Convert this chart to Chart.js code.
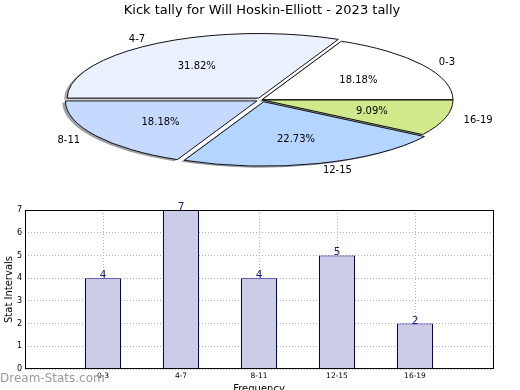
<!DOCTYPE html>
<html><head><meta charset="utf-8">
<script src="https://cdn.jsdelivr.net/npm/chart.js@4/dist/chart.umd.min.js"></script>
<style>
html,body{margin:0;padding:0;background:#fff;overflow:hidden;width:520px;height:390px;}
canvas{position:absolute;left:0;}
#pie{top:0;}
#bar{top:195px;}
#wm{position:absolute;left:0;top:372px;font:12px 'DejaVu Sans';line-height:12px;color:#999;white-space:nowrap;}
</style></head><body>
<canvas id="pie" width="520" height="196"></canvas>
<canvas id="bar" width="520" height="205"></canvas>
<div id="wm">Dream-Stats.com</div>
<script>
// ---- data ----
const categories = ['0-3', '4-7', '8-11', '12-15', '16-19'];
const counts = [4, 7, 4, 5, 2];
const yTicks = [0, 1, 2, 3, 4, 5, 6, 7];
const chartTitle = 'Kick tally for Will Hoskin-Elliott - 2023 tally';
const yTitle = 'Stat Intervals';
const xTitle = 'Frequency';

// ---- styles ----
const FONT = "'DejaVu Sans', sans-serif";
const sliceColors = ['#ffffff', '#ebf1ff', '#c6d9ff', '#b3d5ff', '#d0ea8b'];
const sliceOffsets = [0, 24, 24, 24, 0];
const RX = 191, RY = 64.4, K = RY / RX;
const TEXT_DY = 1;

function applyEll(ctx, cx, cy) { ctx.translate(cx, cy); ctx.scale(1, -K); ctx.translate(-cx, -cy); }
function arcGeom(a) {
  const off = (a.options.offset || 0) / 4;
  const mid = (a.startAngle + a.endAngle) / 2;
  const circ = a.endAngle - a.startAngle;
  const r = a.outerRadius + off * (1 - Math.sin(Math.min(Math.PI, circ)));
  return {x: a.x + Math.cos(mid) * off, y: a.y + Math.sin(mid) * off, r, mid, ox: Math.cos(mid) * off, oy: Math.sin(mid) * off};
}
function wedgePath(ctx, a) {
  const g = arcGeom(a);
  ctx.moveTo(g.x, g.y); ctx.arc(g.x, g.y, g.r, a.startAngle, a.endAngle); ctx.closePath();
}
function shadowOf(hex) {
  const n = parseInt(hex.slice(1), 16);
  const r = Math.round(((n >> 16) & 255) * 0.3), g = Math.round(((n >> 8) & 255) * 0.3), b = Math.round((n & 255) * 0.3);
  return `rgba(${r},${g},${b},0.5)`;
}

const ellipsePlugin = {
  id: 'ellipse',
  beforeDatasetsDraw(chart) {
    const ctx = chart.ctx;
    const arcs = chart.getDatasetMeta(0).data;
    const cx = arcs[0].x, cy = arcs[0].y;
    ctx.save();
    chart.$base = ctx.getTransform();
    arcs.forEach(a => {
      ctx.setTransform(chart.$base);
      ctx.translate(-3, 1.5);
      applyEll(ctx, cx, cy);
      ctx.beginPath(); wedgePath(ctx, a);
      ctx.fillStyle = shadowOf(a.options.backgroundColor);
      ctx.fill();
    });
    ctx.setTransform(chart.$base);
    applyEll(ctx, cx, cy);
  },
  afterDatasetsDraw(chart) {
    const ctx = chart.ctx;
    const arcs = chart.getDatasetMeta(0).data;
    const cx = arcs[0].x, cy = arcs[0].y;
    arcs.forEach(a => {
      ctx.setTransform(chart.$base); applyEll(ctx, cx, cy);
      ctx.beginPath(); wedgePath(ctx, a);
      ctx.setTransform(chart.$base);
      ctx.lineWidth = 1; ctx.strokeStyle = '#111'; ctx.lineJoin = 'miter'; ctx.stroke();
    });
    ctx.restore();
    const total = counts.reduce((s, v) => s + v, 0);
    ctx.save();
    ctx.fillStyle = '#000';
    ctx.font = '10px ' + FONT;
    ctx.textBaseline = 'middle';
    arcs.forEach((a, i) => {
      const g = arcGeom(a);
      const lx = cx + g.ox + 1.1 * a.outerRadius * Math.cos(g.mid);
      const ly = cy - K * (g.oy + 1.1 * a.outerRadius * Math.sin(g.mid)) + TEXT_DY;
      ctx.textAlign = Math.cos(g.mid) > 0 ? 'left' : 'right';
      ctx.fillText(categories[i], lx, ly);
      const px = cx + g.ox + 0.6 * a.outerRadius * Math.cos(g.mid);
      const py = cy - K * (g.oy + 0.6 * a.outerRadius * Math.sin(g.mid)) + TEXT_DY;
      ctx.textAlign = 'center';
      ctx.fillText((counts[i] / total * 100).toFixed(2) + '%', px, py);
    });
    ctx.restore();
  }
};

new Chart(document.getElementById('pie'), {
  type: 'pie',
  data: {
    labels: categories,
    datasets: [{
      data: counts,
      backgroundColor: sliceColors,
      borderWidth: 0,
      offset: sliceOffsets,
      clip: false
    }]
  },
  options: {
    responsive: false,
    animation: false,
    rotation: 90,
    radius: RX,
    events: [],
    layout: {padding: {left: 4, right: 0, top: 0, bottom: 15}},
    plugins: {
      legend: {display: false},
      tooltip: {enabled: false},
      title: {display: true, text: chartTitle, color: '#000', font: {family: FONT, size: 13, weight: 'normal'}, padding: {top: 3, bottom: 0}}
    }
  },
  plugins: [ellipsePlugin]
});

// ---- bar chart ----
const framePlugin = {
  id: 'frame',
  afterDraw(chart) {
    const {ctx, chartArea: a} = chart;
    ctx.save();
    ctx.strokeStyle = '#000'; ctx.lineWidth = 1;
    ctx.strokeRect(Math.round(a.left) + 0.5, Math.round(a.top) + 0.5, Math.round(a.right - a.left), Math.round(a.bottom - a.top) - 1);
    ctx.restore();
  }
};
const valuePlugin = {
  id: 'values',
  afterDatasetsDraw(chart) {
    const ctx = chart.ctx;
    ctx.save();
    ctx.fillStyle = '#1a1a8c';
    ctx.font = '10.5px ' + FONT;
    ctx.textAlign = 'center'; ctx.textBaseline = 'alphabetic';
    chart.getDatasetMeta(0).data.forEach((b, i) => ctx.fillText(String(counts[i]), b.x, b.y));
    ctx.restore();
  }
};

new Chart(document.getElementById('bar'), {
  type: 'bar',
  data: {
    datasets: [{
      data: categories.map((c, i) => ({x: i, y: counts[i]})),
      backgroundColor: '#ccccE6',
      borderColor: '#000080',
      borderWidth: 1,
      barThickness: 36,
      inflateAmount: 0
    }]
  },
  options: {
    responsive: false,
    animation: false,
    events: [],
    layout: {padding: {left: 0, right: 27, top: 15, bottom: 0}},
    plugins: {legend: {display: false}, tooltip: {enabled: false}},
    scales: {
      x: {
        type: 'linear', min: -1, max: categories.length, offset: false,
        afterBuildTicks(s) { s.ticks = [-1].concat(categories.map((c, i) => i), [categories.length]).map(v => ({value: v})); },
        ticks: {callback: v => categories[v] ?? '', color: '#000', font: {family: FONT, size: 7.5}, padding: 3, maxRotation: 0, autoSkip: false},
        grid: {color: '#b0b0b0', drawTicks: false, lineWidth: 1, offset: false},
        border: {display: false, dash: [1, 2]},
        title: {display: true, text: xTitle, color: '#000', font: {family: FONT, size: 10}, padding: {top: 0, bottom: 4.5}},
        afterFit(s) { s.height = 31; }
      },
      y: {
        min: yTicks[0], max: yTicks[yTicks.length - 1],
        afterBuildTicks(s) { s.ticks = yTicks.map(v => ({value: v})); },
        ticks: {color: '#000', font: {family: FONT, size: 8}, padding: 3},
        grid: {color: '#b0b0b0', drawTicks: false, lineWidth: 1},
        border: {display: false, dash: [1, 2]},
        title: {display: true, text: yTitle, color: '#000', font: {family: FONT, size: 10}, padding: {top: 3, bottom: 0}},
        afterFit(s) { s.width = 25; }
      }
    }
  },
  plugins: [framePlugin, valuePlugin]
});
</script>
</body></html>
